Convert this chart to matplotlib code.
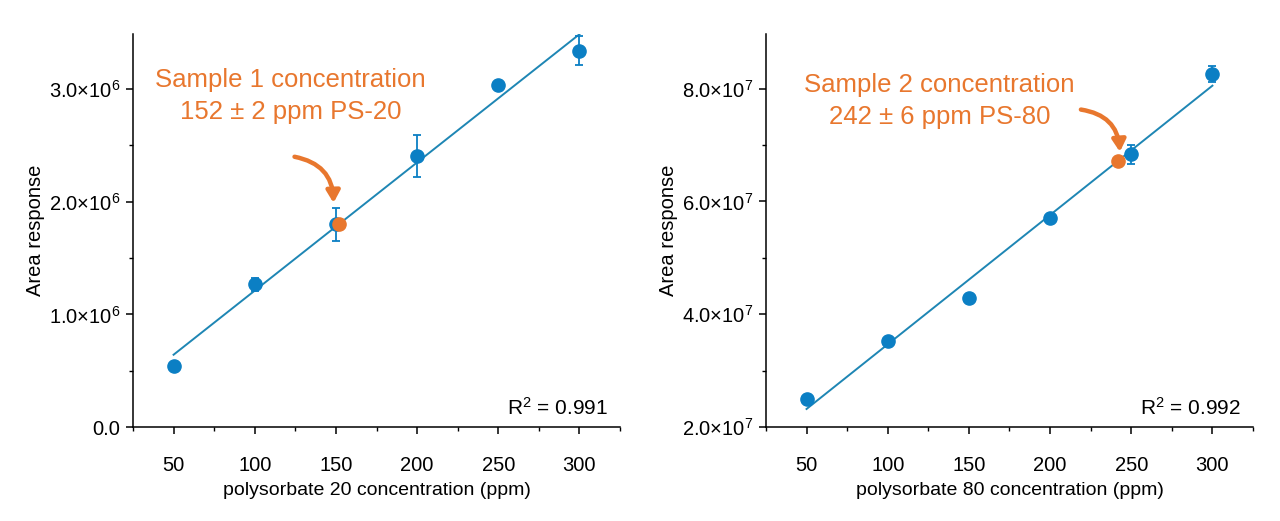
import matplotlib
matplotlib.use("Agg")
import matplotlib.pyplot as plt
import numpy as np
from matplotlib.ticker import FuncFormatter, MultipleLocator

plt.rcParams["font.family"] = ["Liberation Sans", "DejaVu Sans"]
plt.rcParams["mathtext.fontset"] = "custom"
plt.rcParams["mathtext.rm"] = "Liberation Sans"
plt.rcParams["mathtext.it"] = "Liberation Sans:italic"

BLUE = "#0B7FC4"
LINE = "#1E86B4"
ORANGE = "#E8772E"

conc = [50, 100, 150, 200, 250, 300]

ps20_area = [0.54e6, 1.266e6, 1.80e6, 2.407e6, 3.036e6, 3.341e6]
ps20_err = [0.02e6, 0.055e6, 0.145e6, 0.19e6, 0.02e6, 0.13e6]
ps20_sample = 152
ps20_label = "Sample 1 concentration\n152 ± 2 ppm PS-20"
ps20_r2 = "0.991"

ps80_area = [2.50e7, 3.53e7, 4.29e7, 5.70e7, 6.84e7, 8.26e7]
ps80_err = [0.03e7, 0.03e7, 0.03e7, 0.03e7, 0.17e7, 0.14e7]
ps80_sample = 242
ps80_label = "Sample 2 concentration\n242 ± 6 ppm PS-80"
ps80_r2 = "0.992"


def sci_fmt(val, pos):
    if val == 0:
        return "0.0"
    exp = int(np.floor(np.log10(abs(val))))
    mant = val / 10 ** exp
    return f"{mant:.1f}×10$^{{{exp}}}$"


def panel(ax, area, err, sample, label, r2, xname, ylim, ymaj, ymin,
          text_xy, arrow_tail, arrow_tip):
    x = np.array(conc)
    y = np.array(area)
    slope, icpt = np.polyfit(x, y, 1)
    ax.plot([x[0], x[-1]], [slope * x[0] + icpt, slope * x[-1] + icpt],
            color=LINE, lw=1.4, zorder=2)
    ax.errorbar(x, y, yerr=err, fmt="o", color=BLUE, ms=9.5, capsize=3,
                elinewidth=1.3, capthick=1.3, zorder=3)
    ax.plot([sample], [slope * sample + icpt], "o", color=ORANGE, ms=9.5,
            zorder=4)

    ax.set_xlim(25, 325)
    ax.set_ylim(*ylim)
    ax.xaxis.set_major_locator(MultipleLocator(50))
    ax.xaxis.set_minor_locator(MultipleLocator(25))
    ax.yaxis.set_major_locator(MultipleLocator(ymaj))
    ax.yaxis.set_minor_locator(MultipleLocator(ymin))
    ax.yaxis.set_major_formatter(FuncFormatter(sci_fmt))
    for s in ("top", "right"):
        ax.spines[s].set_visible(False)
    for s in ("left", "bottom"):
        ax.spines[s].set_linewidth(1.1)
    ax.tick_params(which="major", length=5, width=1.1, labelsize=14.5)
    ax.tick_params(which="minor", length=3, width=1.0)
    ax.tick_params(axis="x", pad=16)
    ax.tick_params(axis="y", pad=4)
    ax.set_xlabel(xname, fontsize=14, labelpad=5)
    ax.set_ylabel("Area response", fontsize=14.5, labelpad=3)

    ax.text(*text_xy, label, color=ORANGE, fontsize=18.5, ha="center",
            va="center", linespacing=1.45)
    ax.annotate("", xy=arrow_tip, xytext=arrow_tail,
                arrowprops=dict(arrowstyle="-|>,head_length=0.7,head_width=0.4",
                                color=ORANGE, lw=3.2,
                                connectionstyle="arc3,rad=-0.4",
                                shrinkA=0, shrinkB=0))
    ax.text(0.975, 0.02, f"R$^2$ = {r2}", transform=ax.transAxes,
            ha="right", va="bottom", fontsize=15)


fig = plt.figure(figsize=(12.8, 5.21), dpi=100)
ax1 = fig.add_axes([0.1039, 0.1804, 0.3805, 0.7543])
ax2 = fig.add_axes([0.5984, 0.1804, 0.3805, 0.7543])

panel(ax1, ps20_area, ps20_err, ps20_sample, ps20_label, ps20_r2,
      "polysorbate 20 concentration (ppm)", (0, 3.49e6), 1e6, 0.5e6,
      (122, 2.94e6), (124.5, 2.40e6), (148.5, 1.99e6))
panel(ax2, ps80_area, ps80_err, ps80_sample, ps80_label, ps80_r2,
      "polysorbate 80 concentration (ppm)", (2e7, 8.97e7), 2e7, 1e7,
      (132, 7.78e7), (219, 7.63e7), (243, 6.88e7))

fig.savefig("out.png", dpi=100)
